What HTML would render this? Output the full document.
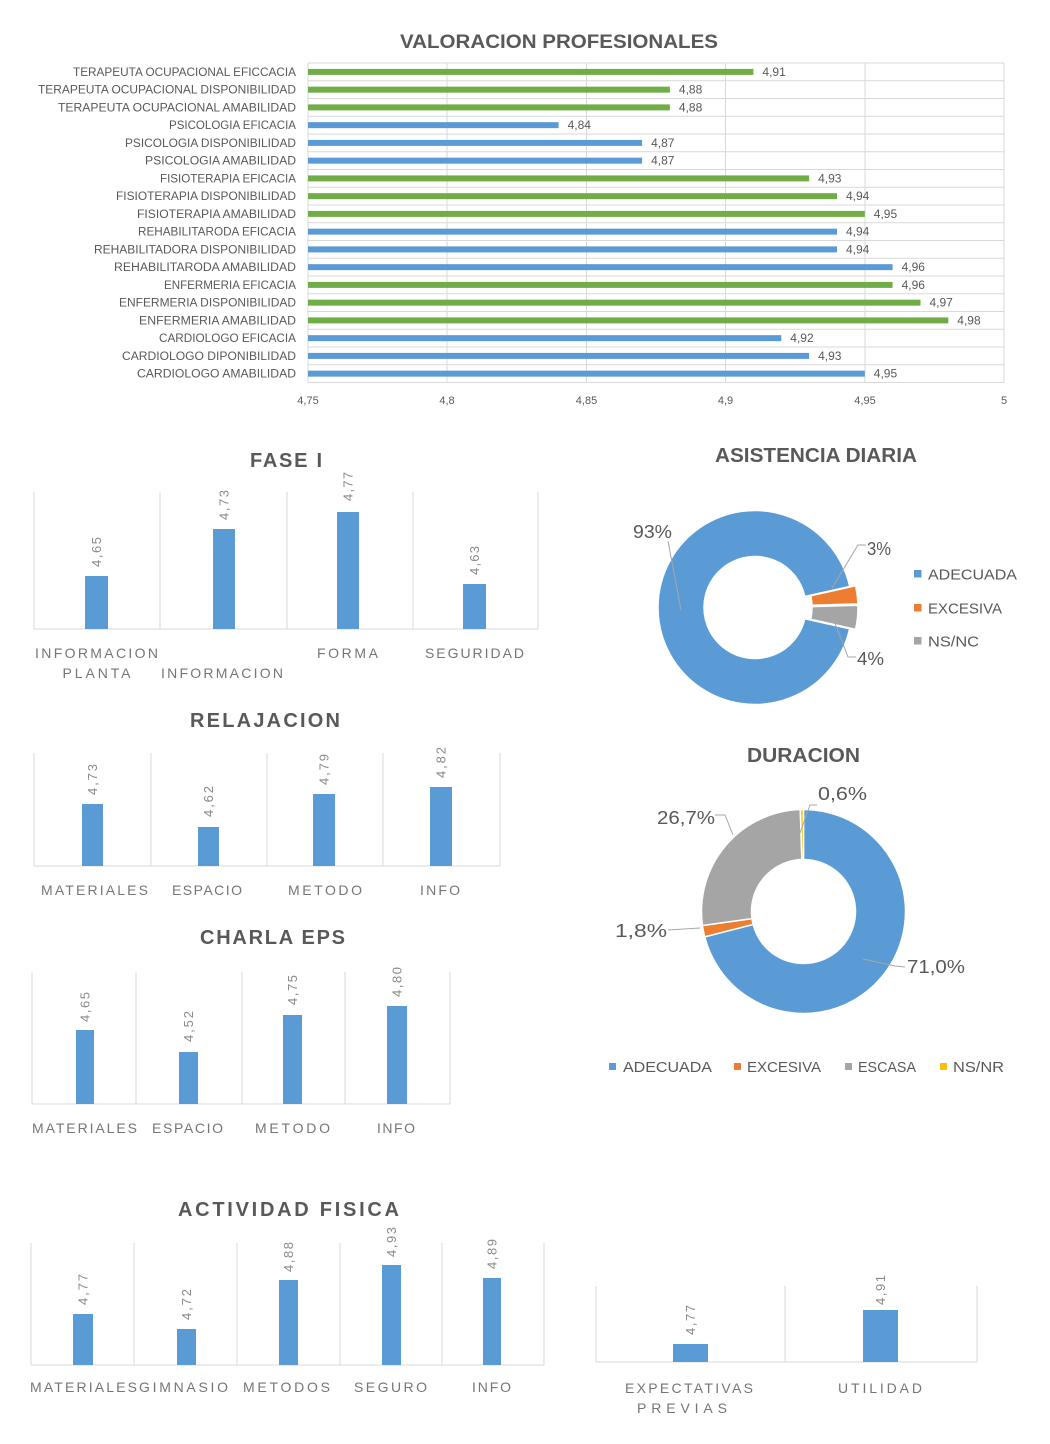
<!DOCTYPE html>
<html><head><meta charset="utf-8"><style>
html,body{margin:0;padding:0;background:#fff;}
svg{display:block;font-family:"Liberation Sans",sans-serif;}
.t{font-weight:bold;fill:#595959;}
.c{fill:#595959;font-size:11.5px;}
.v{fill:#595959;font-size:12px;}
.k{fill:#595959;font-size:11px;}
.g{stroke:#d9d9d9;stroke-width:1;fill:none;}
.cl{fill:#767676;font-size:14px;}
.vl{fill:#8a8a8a;font-size:13px;}
.pl{fill:#595959;font-size:18px;}
.lg{fill:#595959;font-size:15px;}
.ld{stroke:#a6a6a6;stroke-width:1;fill:none;}
</style></head><body>
<svg width="1050" height="1444" viewBox="0 0 1050 1444" xmlns="http://www.w3.org/2000/svg">
<rect width="1050" height="1444" fill="#fff"/>

<!-- ========== VALORACION PROFESIONALES ========== -->
<text class="t" x="400" y="48" font-size="19" textLength="318" lengthAdjust="spacingAndGlyphs">VALORACION PROFESIONALES</text>
<g class="g">
<path d="M308 63H1004M308 80.75H1004M308 98.5H1004M308 116.25H1004M308 134H1004M308 151.75H1004M308 169.5H1004M308 187.25H1004M308 205H1004M308 222.75H1004M308 240.5H1004M308 258.25H1004M308 276H1004M308 293.75H1004M308 311.5H1004M308 329.25H1004M308 347H1004M308 364.75H1004M308 382.5H1004"/>
<path d="M308 63V383M447 63V383M586.5 63V383M725.5 63V383M865 63V383M1004 63V383"/>
</g>
<g>
<rect x="308" y="68.9" width="445.4" height="6" fill="#70ad47"/>
<rect x="308" y="86.65" width="361.9" height="6" fill="#70ad47"/>
<rect x="308" y="104.4" width="361.9" height="6" fill="#70ad47"/>
<rect x="308" y="122.15" width="250.6" height="6" fill="#5b9bd5"/>
<rect x="308" y="139.9" width="334.1" height="6" fill="#5b9bd5"/>
<rect x="308" y="157.65" width="334.1" height="6" fill="#5b9bd5"/>
<rect x="308" y="175.4" width="501.1" height="6" fill="#70ad47"/>
<rect x="308" y="193.15" width="529" height="6" fill="#70ad47"/>
<rect x="308" y="210.9" width="556.8" height="6" fill="#70ad47"/>
<rect x="308" y="228.65" width="529" height="6" fill="#5b9bd5"/>
<rect x="308" y="246.4" width="529" height="6" fill="#5b9bd5"/>
<rect x="308" y="264.15" width="584.6" height="6" fill="#5b9bd5"/>
<rect x="308" y="281.9" width="584.6" height="6" fill="#70ad47"/>
<rect x="308" y="299.65" width="612.5" height="6" fill="#70ad47"/>
<rect x="308" y="317.4" width="640.3" height="6" fill="#70ad47"/>
<rect x="308" y="335.15" width="473.3" height="6" fill="#5b9bd5"/>
<rect x="308" y="352.9" width="501.1" height="6" fill="#5b9bd5"/>
<rect x="308" y="370.65" width="556.8" height="6" fill="#5b9bd5"/>
</g>
<g class="v">
<text x="762.4" y="76">4,91</text>
<text x="678.9" y="93.7">4,88</text>
<text x="678.9" y="111.4">4,88</text>
<text x="567.6" y="129.2">4,84</text>
<text x="651.1" y="146.9">4,87</text>
<text x="651.1" y="164.7">4,87</text>
<text x="818.1" y="182.4">4,93</text>
<text x="846" y="200.2">4,94</text>
<text x="873.8" y="217.9">4,95</text>
<text x="846" y="235.7">4,94</text>
<text x="846" y="253.4">4,94</text>
<text x="901.6" y="271.2">4,96</text>
<text x="901.6" y="288.9">4,96</text>
<text x="929.5" y="306.7">4,97</text>
<text x="957.3" y="324.4">4,98</text>
<text x="790.3" y="342.2">4,92</text>
<text x="818.1" y="359.9">4,93</text>
<text x="873.8" y="377.7">4,95</text>
</g>
<g class="c" text-anchor="end">
<text x="296" y="76" textLength="223" lengthAdjust="spacingAndGlyphs">TERAPEUTA OCUPACIONAL EFICCACIA</text>
<text x="296" y="93.7" textLength="258" lengthAdjust="spacingAndGlyphs">TERAPEUTA OCUPACIONAL DISPONIBILIDAD</text>
<text x="296" y="111.4" textLength="238" lengthAdjust="spacingAndGlyphs">TERAPEUTA OCUPACIONAL AMABILIDAD</text>
<text x="296" y="129.2" textLength="127" lengthAdjust="spacingAndGlyphs">PSICOLOGIA EFICACIA</text>
<text x="296" y="146.9" textLength="171" lengthAdjust="spacingAndGlyphs">PSICOLOGIA DISPONIBILIDAD</text>
<text x="296" y="164.7" textLength="151" lengthAdjust="spacingAndGlyphs">PSICOLOGIA AMABILIDAD</text>
<text x="296" y="182.4" textLength="136" lengthAdjust="spacingAndGlyphs">FISIOTERAPIA EFICACIA</text>
<text x="296" y="200.2" textLength="180" lengthAdjust="spacingAndGlyphs">FISIOTERAPIA DISPONIBILIDAD</text>
<text x="296" y="217.9" textLength="159" lengthAdjust="spacingAndGlyphs">FISIOTERAPIA AMABILIDAD</text>
<text x="296" y="235.7" textLength="158" lengthAdjust="spacingAndGlyphs">REHABILITARODA EFICACIA</text>
<text x="296" y="253.4" textLength="202" lengthAdjust="spacingAndGlyphs">REHABILITADORA DISPONIBILIDAD</text>
<text x="296" y="271.2" textLength="182" lengthAdjust="spacingAndGlyphs">REHABILITARODA AMABILIDAD</text>
<text x="296" y="288.9" textLength="132" lengthAdjust="spacingAndGlyphs">ENFERMERIA EFICACIA</text>
<text x="296" y="306.7" textLength="177" lengthAdjust="spacingAndGlyphs">ENFERMERIA DISPONIBILIDAD</text>
<text x="296" y="324.4" textLength="157" lengthAdjust="spacingAndGlyphs">ENFERMERIA AMABILIDAD</text>
<text x="296" y="342.2" textLength="137" lengthAdjust="spacingAndGlyphs">CARDIOLOGO EFICACIA</text>
<text x="296" y="359.9" textLength="174" lengthAdjust="spacingAndGlyphs">CARDIOLOGO DIPONIBILIDAD</text>
<text x="296" y="377.7" textLength="159" lengthAdjust="spacingAndGlyphs">CARDIOLOGO AMABILIDAD</text>
</g>
<g class="k" text-anchor="middle">
<text x="308" y="404">4,75</text>
<text x="447" y="404">4,8</text>
<text x="586.5" y="404">4,85</text>
<text x="725.5" y="404">4,9</text>
<text x="865" y="404">4,95</text>
<text x="1004" y="404">5</text>
</g>

<!-- ========== FASE I ========== -->
<text class="t" x="250" y="467" font-size="20" textLength="72" lengthAdjust="spacing">FASE I</text>
<g class="g">
<path d="M34 492V629M160 492V629M287 492V629M413 492V629M538 492V629M34 629H538"/>
</g>
<g fill="#5b9bd5">
<rect x="85" y="576" width="23" height="53"/>
<rect x="213" y="529" width="22" height="100"/>
<rect x="337" y="512" width="22" height="117"/>
<rect x="463" y="584" width="23" height="45"/>
</g>
<g class="vl">
<text transform="translate(101,567) rotate(-90)" textLength="30" lengthAdjust="spacing">4,65</text>
<text transform="translate(228.5,520) rotate(-90)" textLength="30" lengthAdjust="spacing">4,73</text>
<text transform="translate(352.5,501) rotate(-90)" textLength="29" lengthAdjust="spacing">4,77</text>
<text transform="translate(479,575) rotate(-90)" textLength="29" lengthAdjust="spacing">4,63</text>
</g>
<g class="cl">
<text x="35" y="658" textLength="123" lengthAdjust="spacing">INFORMACION</text>
<text x="62.5" y="678" textLength="68" lengthAdjust="spacing">PLANTA</text>
<text x="161" y="678" textLength="122" lengthAdjust="spacing">INFORMACION</text>
<text x="317" y="658" textLength="61" lengthAdjust="spacing">FORMA</text>
<text x="425" y="658" textLength="99" lengthAdjust="spacing">SEGURIDAD</text>
</g>

<!-- ========== RELAJACION ========== -->
<text class="t" x="190" y="727" font-size="20" textLength="150" lengthAdjust="spacing">RELAJACION</text>
<g class="g">
<path d="M34 753V866M151 753V866M267 753V866M383 753V866M500 753V866M34 866H500"/>
</g>
<g fill="#5b9bd5">
<rect x="82" y="804" width="21" height="62"/>
<rect x="198" y="827" width="21" height="39"/>
<rect x="313" y="794" width="22" height="72"/>
<rect x="430" y="787" width="22" height="79"/>
</g>
<g class="vl">
<text transform="translate(97,795) rotate(-90)" textLength="31" lengthAdjust="spacing">4,73</text>
<text transform="translate(213,817) rotate(-90)" textLength="31" lengthAdjust="spacing">4,62</text>
<text transform="translate(328.5,785) rotate(-90)" textLength="31" lengthAdjust="spacing">4,79</text>
<text transform="translate(445.5,778) rotate(-90)" textLength="31" lengthAdjust="spacing">4,82</text>
</g>
<g class="cl">
<text x="41" y="895" textLength="107" lengthAdjust="spacing">MATERIALES</text>
<text x="172" y="895" textLength="70" lengthAdjust="spacing">ESPACIO</text>
<text x="288" y="895" textLength="74" lengthAdjust="spacing">METODO</text>
<text x="420" y="895" textLength="40" lengthAdjust="spacing">INFO</text>
</g>

<!-- ========== CHARLA EPS ========== -->
<text class="t" x="200" y="944" font-size="20" textLength="145" lengthAdjust="spacing">CHARLA EPS</text>
<g class="g">
<path d="M32 972V1104M136 972V1104M242 972V1104M345 972V1104M450 972V1104M32 1104H450"/>
</g>
<g fill="#5b9bd5">
<rect x="76" y="1030" width="18" height="74"/>
<rect x="179" y="1052" width="19" height="52"/>
<rect x="283" y="1015" width="19" height="89"/>
<rect x="387" y="1006" width="20" height="98"/>
</g>
<g class="vl">
<text transform="translate(89.5,1022) rotate(-90)" textLength="30" lengthAdjust="spacing">4,65</text>
<text transform="translate(193,1042) rotate(-90)" textLength="31" lengthAdjust="spacing">4,52</text>
<text transform="translate(297,1005) rotate(-90)" textLength="30" lengthAdjust="spacing">4,75</text>
<text transform="translate(401.5,997) rotate(-90)" textLength="30" lengthAdjust="spacing">4,80</text>
</g>
<g class="cl">
<text x="32" y="1133" textLength="105" lengthAdjust="spacing">MATERIALES</text>
<text x="152" y="1133" textLength="71" lengthAdjust="spacing">ESPACIO</text>
<text x="255" y="1133" textLength="75" lengthAdjust="spacing">METODO</text>
<text x="377" y="1133" textLength="38" lengthAdjust="spacing">INFO</text>
</g>

<!-- ========== ACTIVIDAD FISICA ========== -->
<text class="t" x="178" y="1216" font-size="20" textLength="221" lengthAdjust="spacing">ACTIVIDAD FISICA</text>
<g class="g">
<path d="M31 1243V1365M134 1243V1365M237 1243V1365M340 1243V1365M442 1243V1365M544 1243V1365M31 1365H544"/>
</g>
<g fill="#5b9bd5">
<rect x="73" y="1314" width="20" height="51"/>
<rect x="177" y="1329" width="19" height="36"/>
<rect x="279" y="1280" width="19" height="85"/>
<rect x="382" y="1265" width="19" height="100"/>
<rect x="483" y="1278" width="18" height="87"/>
</g>
<g class="vl">
<text transform="translate(87.5,1305) rotate(-90)" textLength="31" lengthAdjust="spacing">4,77</text>
<text transform="translate(191,1320) rotate(-90)" textLength="31" lengthAdjust="spacing">4,72</text>
<text transform="translate(293,1272) rotate(-90)" textLength="30" lengthAdjust="spacing">4,88</text>
<text transform="translate(396,1257) rotate(-90)" textLength="30" lengthAdjust="spacing">4,93</text>
<text transform="translate(496.5,1269) rotate(-90)" textLength="30" lengthAdjust="spacing">4,89</text>
</g>
<g class="cl">
<text x="30" y="1392" textLength="107" lengthAdjust="spacing">MATERIALES</text>
<text x="139" y="1392" textLength="89" lengthAdjust="spacing">GIMNASIO</text>
<text x="243" y="1392" textLength="87" lengthAdjust="spacing">METODOS</text>
<text x="354" y="1392" textLength="73" lengthAdjust="spacing">SEGURO</text>
<text x="472" y="1392" textLength="39" lengthAdjust="spacing">INFO</text>
</g>

<!-- ========== EXPECTATIVAS / UTILIDAD ========== -->
<g class="g">
<path d="M596 1286V1362M785 1286V1362M977 1286V1362M596 1362H977"/>
</g>
<g fill="#5b9bd5">
<rect x="673" y="1344" width="35" height="18"/>
<rect x="863" y="1310" width="35" height="52"/>
</g>
<g class="vl">
<text transform="translate(695,1335) rotate(-90)" textLength="30" lengthAdjust="spacing">4,77</text>
<text transform="translate(885,1305) rotate(-90)" textLength="30" lengthAdjust="spacing">4,91</text>
</g>
<g class="cl">
<text x="625" y="1393" textLength="128" lengthAdjust="spacing">EXPECTATIVAS</text>
<text x="637" y="1413" textLength="90" lengthAdjust="spacing">PREVIAS</text>
<text x="838" y="1393" textLength="84" lengthAdjust="spacing">UTILIDAD</text>
</g>

<!-- ========== ASISTENCIA DIARIA ========== -->
<text class="t" x="715" y="462" font-size="20" textLength="202" lengthAdjust="spacingAndGlyphs">ASISTENCIA DIARIA</text>
<g stroke="#fff" stroke-width="1.5">
<path fill="#5b9bd5" d="M849.62 628.82 A97 97 0 1 1 849.70 586.51 L804.79 596.46 A51 51 0 1 0 804.75 618.71 Z"/>
<path fill="#ed7d31" d="M855.65 585.77 A97 97 0 0 1 857.91 603.88 L811.93 605.25 A51 51 0 0 0 810.74 595.72 Z"/>
<path fill="#a5a5a5" d="M857.93 605.20 A97 97 0 0 1 855.59 629.40 L810.72 619.29 A51 51 0 0 0 811.95 606.57 Z"/>
</g>
<g class="ld">
<polyline points="668,541 681,610"/>
<polyline points="866,545 858,545 832,588"/>
<polyline points="856,657 848,657 835,623"/>
</g>
<g class="pl">
<text x="633" y="538" textLength="39" lengthAdjust="spacingAndGlyphs">93%</text>
<text x="867" y="555" textLength="24" lengthAdjust="spacingAndGlyphs">3%</text>
<text x="857" y="665" textLength="27" lengthAdjust="spacingAndGlyphs">4%</text>
</g>
<rect x="914" y="570" width="7.5" height="7.5" fill="#5b9bd5"/>
<rect x="914" y="604" width="7.5" height="7.5" fill="#ed7d31"/>
<rect x="914" y="637" width="7.5" height="7.5" fill="#a5a5a5"/>
<g class="lg">
<text x="928" y="579.5" textLength="89" lengthAdjust="spacingAndGlyphs">ADECUADA</text>
<text x="928" y="613.5" textLength="74" lengthAdjust="spacingAndGlyphs">EXCESIVA</text>
<text x="928" y="646.5" textLength="51" lengthAdjust="spacingAndGlyphs">NS/NC</text>
</g>

<!-- ========== DURACION ========== -->
<text class="t" x="747" y="762" font-size="20" textLength="113" lengthAdjust="spacingAndGlyphs">DURACION</text>
<g stroke="#fff" stroke-width="1.5">
<path fill="#5b9bd5" d="M803.5 809.5 A102 102 0 1 1 704.70 936.87 L753.13 924.43 A52 52 0 1 0 803.5 859.5 Z"/>
<path fill="#ed7d31" d="M704.70 936.87 A102 102 0 0 1 702.47 925.51 L751.99 918.64 A52 52 0 0 0 753.13 924.43 Z"/>
<path fill="#a5a5a5" d="M702.47 925.51 A102 102 0 0 1 800.30 809.55 L801.87 859.53 A52 52 0 0 0 751.99 918.64 Z"/>
<path fill="#ffc000" d="M800.30 809.55 A102 102 0 0 1 803.5 809.5 L803.5 859.5 A52 52 0 0 0 801.87 859.53 Z"/>
</g>
<g class="ld">
<polyline points="817,805 810,805 800,833"/>
<polyline points="715,815 725,815 733,835"/>
<polyline points="668,930 700,928"/>
<polyline points="905,967 895,966 863,959"/>
</g>
<g class="pl">
<text x="818" y="800" textLength="49" lengthAdjust="spacingAndGlyphs">0,6%</text>
<text x="657" y="824" textLength="58" lengthAdjust="spacingAndGlyphs">26,7%</text>
<text x="615" y="937" textLength="52" lengthAdjust="spacingAndGlyphs">1,8%</text>
<text x="907" y="973" textLength="58" lengthAdjust="spacingAndGlyphs">71,0%</text>
</g>
<rect x="609" y="1063" width="7" height="7" fill="#5b9bd5"/>
<rect x="734" y="1063" width="7" height="7" fill="#ed7d31"/>
<rect x="845" y="1063" width="7" height="7" fill="#a5a5a5"/>
<rect x="940" y="1063" width="7" height="7" fill="#ffc000"/>
<g class="lg">
<text x="623" y="1072" textLength="89" lengthAdjust="spacingAndGlyphs">ADECUADA</text>
<text x="747" y="1072" textLength="74" lengthAdjust="spacingAndGlyphs">EXCESIVA</text>
<text x="858" y="1072" textLength="58" lengthAdjust="spacingAndGlyphs">ESCASA</text>
<text x="953" y="1072" textLength="51" lengthAdjust="spacingAndGlyphs">NS/NR</text>
</g>
</svg>
</body></html>
